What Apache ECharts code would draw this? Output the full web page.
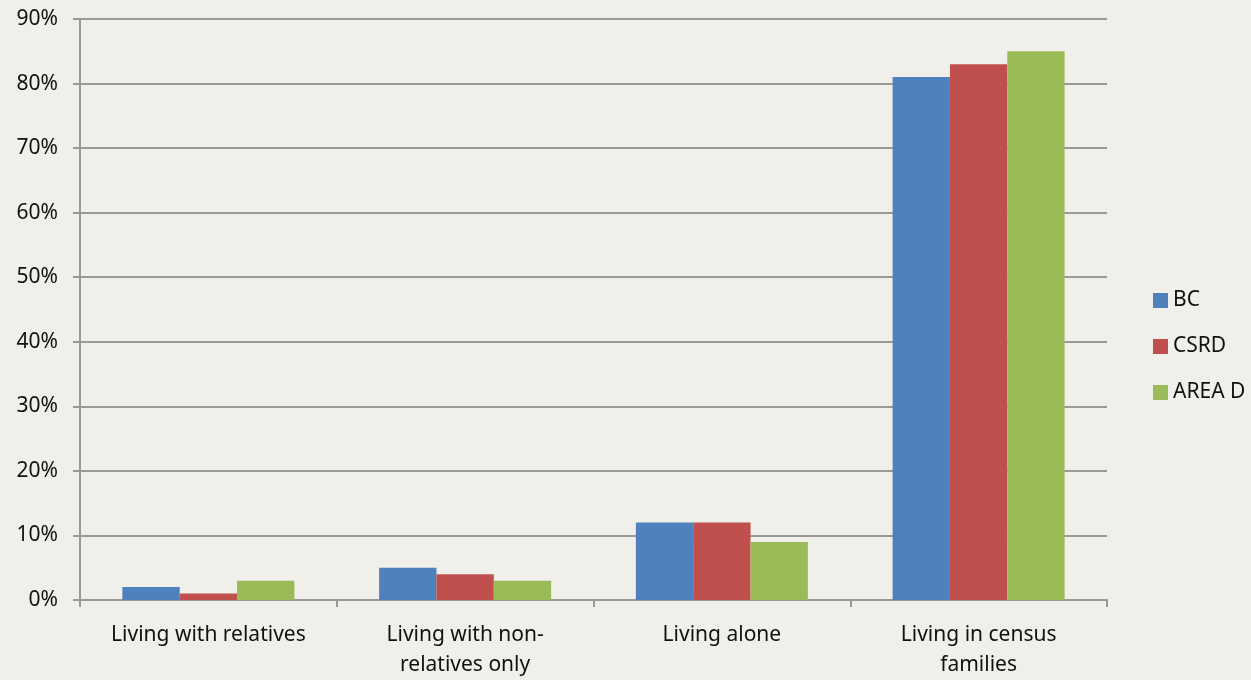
<!DOCTYPE html>
<html><head><meta charset="utf-8">
<script src="https://cdn.jsdelivr.net/npm/echarts@6/dist/echarts.min.js"></script>
<style>html,body{margin:0;padding:0;background:#f1efe9;}#c{width:1251px;height:680px;}</style>
</head><body><div id="c"></div>
<script>
const categories = ["Living with relatives", "Living with non-\nrelatives only", "Living alone", "Living in census\nfamilies"];
const seriesNames = ["BC", "CSRD", "AREA D"];
const bcValues = [2, 5, 12, 81];
const csrdValues = [1, 4, 12, 83];
const areaDValues = [3, 3, 9, 85];
const colors = ["#4F81BD", "#C0504D", "#9BBB59"];
const font = "Noto Sans";
const chart = echarts.init(document.getElementById('c'));
chart.setOption({
  backgroundColor: '#f1efe9',
  animation: false,
  color: colors,
  textStyle: {fontFamily: font},
  grid: {left: 80, right: 144, top: 19, bottom: 80, containLabel: false},
  legend: {
    orient: 'vertical', left: 1148, top: 285, itemWidth: 15, itemHeight: 15, itemGap: 25,
    icon: 'rect',
    textStyle: {fontSize: 21, color: '#111', fontFamily: font},
    data: seriesNames
  },
  xAxis: {
    type: 'category', data: categories,
    axisLine: {lineStyle: {color: '#999', width: 2}},
    axisTick: {show: true, length: 7, lineStyle: {color: '#999', width: 2}},
    axisLabel: {fontSize: 21, color: '#111', lineHeight: 30, margin: 20, interval: 0}
  },
  yAxis: {
    type: 'value', min: 0, max: 90, interval: 10,
    axisLine: {show: true, lineStyle: {color: '#999', width: 2}},
    axisTick: {show: true, length: 7, lineStyle: {color: '#999', width: 2}},
    splitLine: {lineStyle: {color: '#999', width: 2}},
    axisLabel: {formatter: '{value}%', fontSize: 21, color: '#111', margin: 22}
  },
  series: [
    {name: seriesNames[0], type: 'bar', data: bcValues, barGap: '0%', barCategoryGap: '33%'},
    {name: seriesNames[1], type: 'bar', data: csrdValues, barGap: '0%', barCategoryGap: '33%'},
    {name: seriesNames[2], type: 'bar', data: areaDValues, barGap: '0%', barCategoryGap: '33%'}
  ]
});
</script></body></html>
